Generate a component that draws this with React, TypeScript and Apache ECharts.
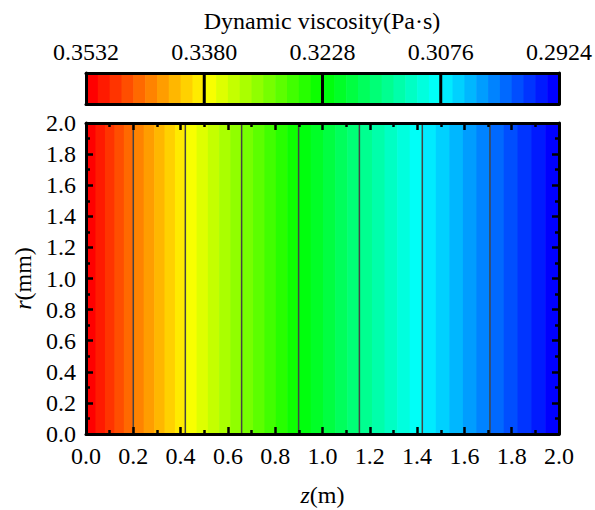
import React, { useEffect, useRef } from "react";
import * as echarts from "echarts";

// z positions (m) of the contour lines drawn in the field
const zContours = [0.2, 0.42, 0.658, 0.899, 1.156, 1.422, 1.708];
const zRange = [0, 2];
const rRange = [0, 2];
// colour bar tick labels (Pa·s), from left to right
const barTickLabels = ["0.3532", "0.3380", "0.3228", "0.3076", "0.2924"];
const bandsPerInterval = 5;
const bandCount = 40;
const colorStops = [
  [255, 0, 0],
  [255, 255, 0],
  [0, 255, 0],
  [0, 255, 255],
  [0, 0, 255],
];

function cmap(t: number): string {
  const n = colorStops.length - 1;
  const p = Math.max(0, Math.min(1, t)) * n;
  const i = Math.min(n - 1, Math.floor(p));
  const f = p - i;
  const a = colorStops[i];
  const b = colorStops[i + 1];
  const c = a.map((v, k) => Math.round(v + (b[k] - v) * f));
  return `rgb(${c[0]},${c[1]},${c[2]})`;
}

const FONT = "Liberation Serif";
const FS = 24;

export default function App() {
  const ref = useRef<HTMLDivElement>(null);
  useEffect(() => {
    document.body.style.margin = "0";
    const chart = echarts.init(ref.current!, undefined, { renderer: "svg" });
    const edges = [zRange[0], ...zContours, zRange[1]];
    const intervals = edges.slice(0, -1).map((z, i) => [z, edges[i + 1], i]);
    const bands = Array.from({ length: bandCount }, (_, i) => [i]);
    const separators = [[10], [20], [30]];

    const labelStyle = { color: "#000", fontFamily: FONT, fontSize: FS };
    const axisLine = { show: true, onZero: false, lineStyle: { color: "#000", width: 3 } };
    const tick = { show: true, inside: true, length: 7, lineStyle: { color: "#000", width: 2.5 } };
    const minor = { show: true, splitNumber: 2, length: 4, lineStyle: { color: "#000", width: 2.5 } };
    const rich = { i: { fontStyle: "italic", fontFamily: FONT, fontSize: FS, color: "#000" } };

    chart.setOption({
      animation: false,
      backgroundColor: "#fff",
      graphic: [
        {
          type: "text",
          x: 322,
          y: 21,
          style: {
            text: "Dynamic viscosity(Pa·s)",
            textAlign: "center",
            textVerticalAlign: "middle",
            fontFamily: FONT,
            fontSize: FS,
            fill: "#000",
          },
        },
      ],
      grid: [
        { left: 86, top: 123, width: 473, height: 311, containLabel: false, outerBoundsMode: "none" },
        { left: 86, top: 73, width: 473, height: 31, containLabel: false, outerBoundsMode: "none" },
      ],
      xAxis: [
        {
          gridIndex: 0,
          type: "value",
          min: zRange[0],
          max: zRange[1],
          interval: 0.2,
          position: "bottom",
          axisLine,
          axisTick: tick,
          minorTick: minor,
          splitLine: { show: false },
          axisLabel: { ...labelStyle, margin: 10, formatter: (v: number) => v.toFixed(1) },
          name: "{i|z}(m)",
          nameLocation: "middle",
          nameGap: 49,
          nameTextStyle: { ...labelStyle, rich },
          z: 10,
        },
        {
          gridIndex: 0,
          type: "value",
          min: zRange[0],
          max: zRange[1],
          interval: 0.2,
          position: "top",
          axisLine,
          axisTick: tick,
          minorTick: minor,
          splitLine: { show: false },
          axisLabel: { show: false },
          z: 10,
        },
        {
          gridIndex: 1,
          type: "value",
          min: 0,
          max: bandCount,
          interval: 10,
          position: "top",
          axisLine,
          axisTick: { show: false },
          splitLine: { show: false },
          axisLabel: {
            ...labelStyle,
            margin: 9,
            formatter: (v: number) => barTickLabels[Math.round(v / 10)] ?? "",
          },
          z: 10,
        },
        {
          gridIndex: 1,
          type: "value",
          min: 0,
          max: bandCount,
          position: "bottom",
          axisLine,
          axisTick: { show: false },
          splitLine: { show: false },
          axisLabel: { show: false },
          z: 10,
        },
      ],
      yAxis: [
        {
          gridIndex: 0,
          type: "value",
          min: rRange[0],
          max: rRange[1],
          interval: 0.2,
          position: "left",
          axisLine,
          axisTick: tick,
          minorTick: minor,
          splitLine: { show: false },
          axisLabel: { ...labelStyle, margin: 10, formatter: (v: number) => v.toFixed(1) },
          name: "{i|r}(mm)",
          nameLocation: "middle",
          nameGap: 48,
          nameRotate: 90,
          nameTextStyle: { ...labelStyle, rich },
          z: 10,
        },
        {
          gridIndex: 0,
          type: "value",
          min: rRange[0],
          max: rRange[1],
          interval: 0.2,
          position: "right",
          axisLine,
          axisTick: tick,
          minorTick: minor,
          splitLine: { show: false },
          axisLabel: { show: false },
          z: 10,
        },
        {
          gridIndex: 1,
          type: "value",
          min: 0,
          max: 1,
          position: "left",
          axisLine,
          axisTick: { show: false },
          splitLine: { show: false },
          axisLabel: { show: false },
          z: 10,
        },
        {
          gridIndex: 1,
          type: "value",
          min: 0,
          max: 1,
          position: "right",
          axisLine,
          axisTick: { show: false },
          splitLine: { show: false },
          axisLabel: { show: false },
          z: 10,
        },
      ],
      series: [
        {
          type: "custom",
          xAxisIndex: 0,
          yAxisIndex: 0,
          z: 1,
          data: intervals,
          renderItem: (params: any, api: any) => {
            const z0 = api.value(0);
            const z1 = api.value(1);
            const idx = api.value(2);
            const p0 = api.coord([z0, rRange[1]]);
            const p1 = api.coord([z1, rRange[0]]);
            const w = (p1[0] - p0[0]) / bandsPerInterval;
            const children = [];
            for (let k = 0; k < bandsPerInterval; k++) {
              const b = idx * bandsPerInterval + k;
              children.push({
                type: "rect",
                shape: { x: p0[0] + w * k, y: p0[1], width: w + 0.6, height: p1[1] - p0[1] },
                style: { fill: cmap(b / (bandCount - 1)) },
              });
            }
            return { type: "group", children };
          },
        },
        {
          type: "custom",
          xAxisIndex: 0,
          yAxisIndex: 0,
          z: 2,
          data: zContours.map((z) => [z]),
          renderItem: (params: any, api: any) => {
            const a = api.coord([api.value(0), rRange[0]]);
            const b = api.coord([api.value(0), rRange[1]]);
            return {
              type: "line",
              shape: { x1: a[0], y1: a[1], x2: b[0], y2: b[1] },
              style: { stroke: "#444", lineWidth: 1.5 },
            };
          },
        },
        {
          type: "custom",
          xAxisIndex: 2,
          yAxisIndex: 2,
          z: 1,
          data: bands,
          renderItem: (params: any, api: any) => {
            const i = api.value(0);
            const p0 = api.coord([i, 1]);
            const p1 = api.coord([i + 1, 0]);
            return {
              type: "rect",
              shape: { x: p0[0], y: p0[1], width: p1[0] - p0[0] + 0.6, height: p1[1] - p0[1] },
              style: { fill: cmap(i / (bandCount - 1)) },
            };
          },
        },
        {
          type: "custom",
          xAxisIndex: 2,
          yAxisIndex: 2,
          z: 2,
          data: separators,
          renderItem: (params: any, api: any) => {
            const a = api.coord([api.value(0), 0]);
            const b = api.coord([api.value(0), 1]);
            return {
              type: "line",
              shape: { x1: a[0], y1: a[1], x2: b[0], y2: b[1] },
              style: { stroke: "#000", lineWidth: 3 },
            };
          },
        },
      ],
    });
    return () => chart.dispose();
  }, []);
  return <div ref={ref} style={{ width: 595, height: 510 }} />;
}
